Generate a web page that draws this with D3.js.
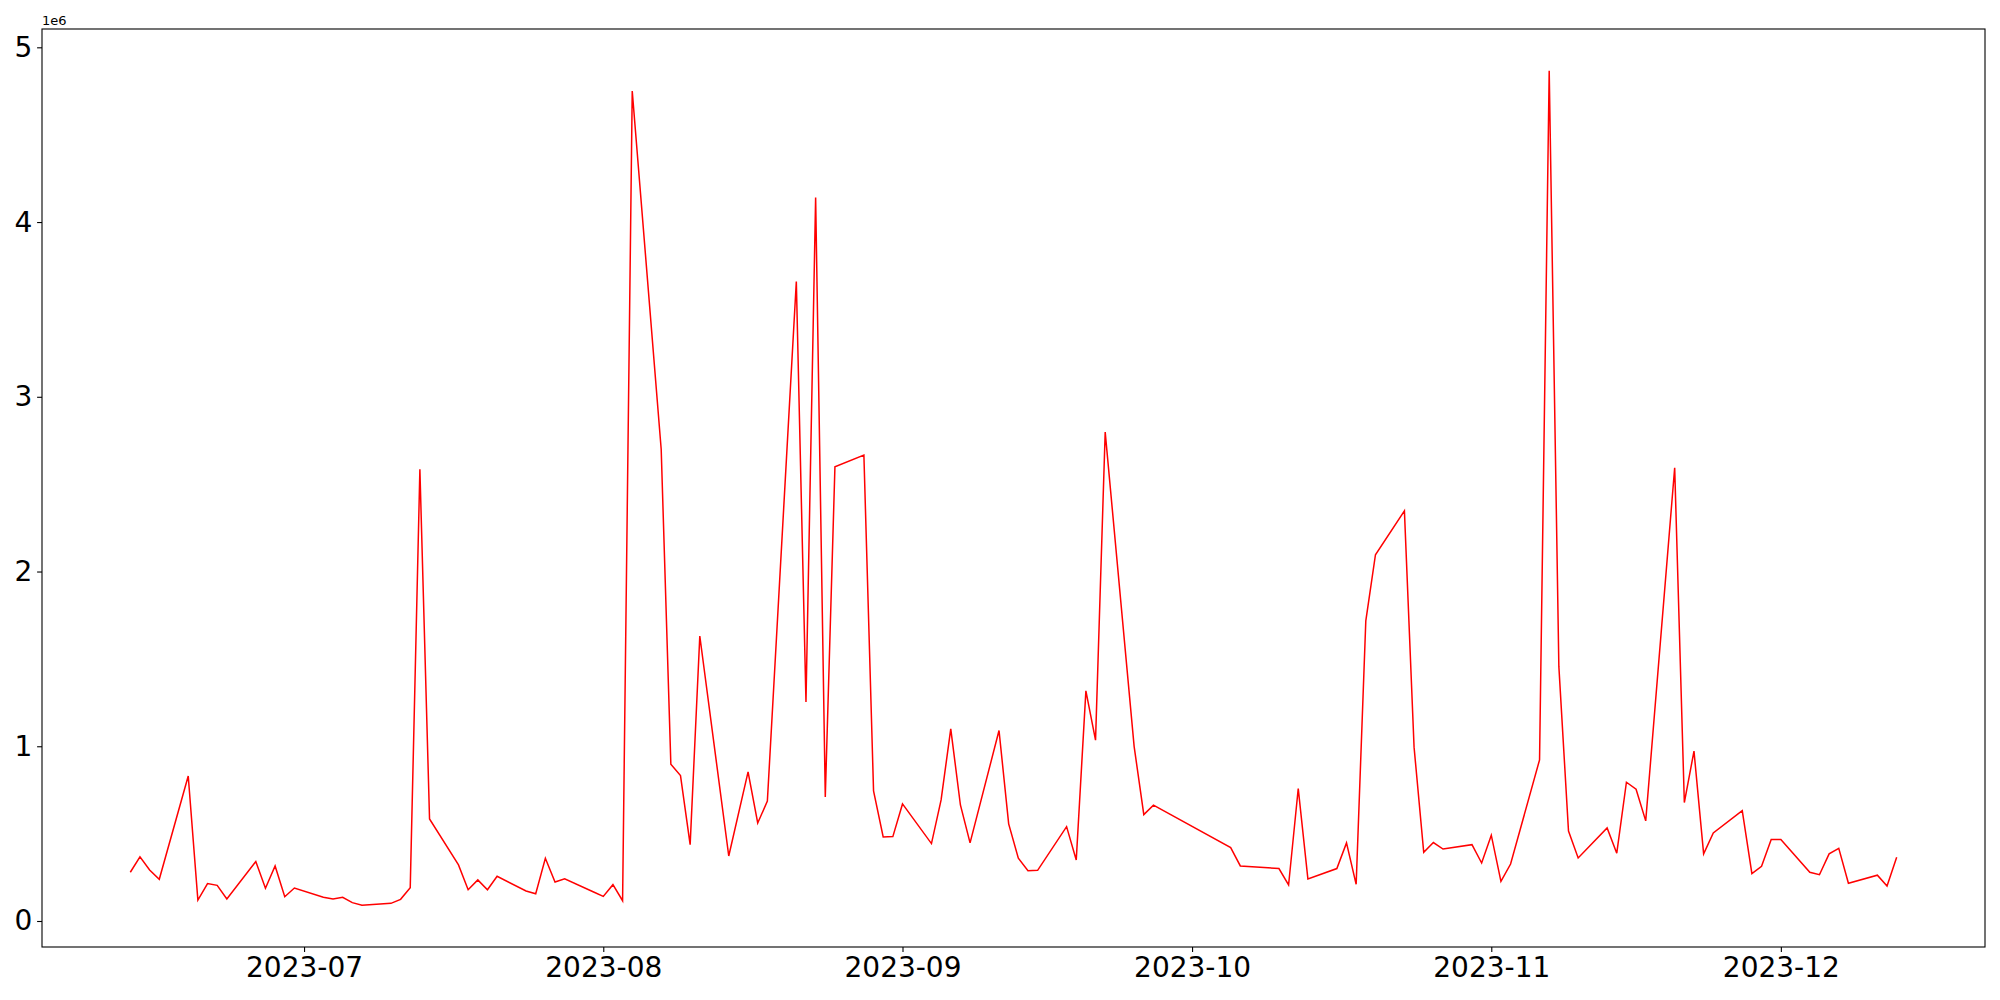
<!DOCTYPE html>
<html>
<head>
<meta charset="utf-8">
<script src="https://cdn.jsdelivr.net/npm/d3@7"></script>
<style>
  body { margin: 0; background: #fff; }
  svg { font-family: "DejaVu Sans", sans-serif; }
</style>
</head>
<body>
<div id="chart"></div>
<script>
// data: trading days and values
const dates = [
  "2023-06-13","2023-06-14","2023-06-15","2023-06-16","2023-06-19","2023-06-20","2023-06-21","2023-06-22","2023-06-23",
  "2023-06-26","2023-06-27","2023-06-28","2023-06-29","2023-06-30",
  "2023-07-03","2023-07-04","2023-07-05","2023-07-06","2023-07-07","2023-07-10","2023-07-11","2023-07-12","2023-07-13","2023-07-14",
  "2023-07-17","2023-07-18","2023-07-19","2023-07-20","2023-07-21","2023-07-24","2023-07-25","2023-07-26","2023-07-27","2023-07-28","2023-07-31",
  "2023-08-01","2023-08-02","2023-08-03","2023-08-04","2023-08-07","2023-08-08","2023-08-09","2023-08-10","2023-08-11","2023-08-14",
  "2023-08-16","2023-08-17","2023-08-18","2023-08-21","2023-08-22","2023-08-23","2023-08-24","2023-08-25","2023-08-28","2023-08-29","2023-08-30","2023-08-31",
  "2023-09-01","2023-09-04","2023-09-05","2023-09-06","2023-09-07","2023-09-08","2023-09-11","2023-09-12","2023-09-13","2023-09-14","2023-09-15",
  "2023-09-18","2023-09-19","2023-09-20","2023-09-21","2023-09-22","2023-09-25","2023-09-26","2023-09-27",
  "2023-10-05","2023-10-06","2023-10-10","2023-10-11","2023-10-12","2023-10-13","2023-10-16","2023-10-17","2023-10-18","2023-10-19","2023-10-20",
  "2023-10-23","2023-10-24","2023-10-25","2023-10-26","2023-10-27","2023-10-30","2023-10-31",
  "2023-11-01","2023-11-02","2023-11-03","2023-11-06","2023-11-07","2023-11-08","2023-11-09","2023-11-10","2023-11-13","2023-11-14","2023-11-15","2023-11-16","2023-11-17",
  "2023-11-20","2023-11-21","2023-11-22","2023-11-23","2023-11-24","2023-11-27","2023-11-28","2023-11-29","2023-11-30",
  "2023-12-01","2023-12-04","2023-12-05","2023-12-06","2023-12-07","2023-12-08","2023-12-11","2023-12-12","2023-12-13"
]

const values = [
  279000, 367000, 292000, 239000, 830000, 120000, 214000, 204000, 126000,
  340000, 187000, 315000, 139000, 189000,
  136000, 126000, 136000, 105000, 90000, 101000, 124000, 191000, 2585000, 584000,
  321000, 179000, 235000, 179000, 256000, 172000, 156000, 359000, 223000, 242000, 166000,
  141000, 208000, 116000, 4750000, 2700000, 897000, 832000, 437000, 1631000, 372000,
  853000, 561000, 686000, 3660000, 1253000, 4140000, 710000, 2600000, 2667000, 745000, 481000, 483000,
  670000, 443000, 693000, 1100000, 664000, 447000, 1090000, 556000, 359000, 288000, 290000,
  540000, 349000, 1317000, 1035000, 2798000, 998000, 609000, 663000,
  420000, 315000, 300000, 206000, 758000, 241000, 300000, 447000, 210000, 1718000, 2096000,
  2347000, 995000, 393000, 449000, 412000, 437000, 332000,
  491000, 227000, 326000, 922000, 4866000, 1457000, 515000, 361000, 533000, 388000, 794000, 754000, 573000,
  2594000, 678000, 972000, 384000, 504000, 632000, 271000, 313000, 466000,
  466000, 279000, 265000, 384000, 416000, 216000, 262000, 200000, 365000
]

const yTicks = [0, 1e6, 2e6, 3e6, 4e6, 5e6]
const xTicks = ["2023-07-01","2023-08-01","2023-09-01","2023-10-01","2023-11-01","2023-12-01"]

// layout
const W = 2000, H = 1000
const margin = {top: 29, right: 15, bottom: 53, left: 42}
const width = W - margin.left - margin.right,
    height = H - margin.top - margin.bottom

const parse = d3.utcParse("%Y-%m-%d")
const data = dates.map((d, i) => ({date: parse(d), value: values[i]}))

// matplotlib-like 5% padding on both axes
const xExt = d3.extent(data, d => d.date)
const xPad = (xExt[1] - xExt[0]) * 0.05
const yExt = d3.extent(data, d => d.value)
const yPad = (yExt[1] - yExt[0]) * 0.05

const x = d3.scaleUtc()
  .domain([new Date(+xExt[0] - xPad), new Date(+xExt[1] + xPad)])
  .range([0, width])

const y = d3.scaleLinear()
  .domain([yExt[0] - yPad, yExt[1] + yPad])
  .range([height, 0])

const svg = d3.select("#chart")
  .append("svg")
    .attr("width", W)
    .attr("height", H)

const g = svg.append("g")
  .attr("transform", "translate(" + margin.left + "," + margin.top + ")")

// axes
g.append("g")
  .attr("transform", "translate(0," + height + ")")
  .call(d3.axisBottom(x)
    .tickValues(xTicks.map(parse))
    .tickFormat(d3.utcFormat("%Y-%m"))
    .tickSize(4.9)
    .tickPadding(4.9)
    .tickSizeOuter(0))

g.append("g")
  .call(d3.axisLeft(y)
    .tickValues(yTicks)
    .tickFormat(d => d / 1e6)
    .tickSize(4.9)
    .tickPadding(4.9)
    .tickSizeOuter(0))

g.selectAll(".tick text")
  .attr("font-family", "DejaVu Sans")
  .attr("font-size", 28)
  .attr("fill", "#000")
g.selectAll(".tick line").attr("stroke", "#000").attr("stroke-width", 1.1)
g.selectAll(".domain").remove()

// line
const line = d3.line()
  .x(d => x(d.date))
  .y(d => y(d.value))

g.append("path")
  .datum(data)
  .attr("fill", "none")
  .attr("stroke", "red")
  .attr("stroke-width", 1.5)
  .attr("d", line)

// frame
g.append("rect")
  .attr("width", width)
  .attr("height", height)
  .attr("fill", "none")
  .attr("stroke", "#000")
  .attr("stroke-width", 1.1)

// offset text
g.append("text")
  .attr("x", 0)
  .attr("y", -4)
  .attr("font-size", 13)
  .attr("fill", "#000")
  .text("1e6")
</script>
</body>
</html>
